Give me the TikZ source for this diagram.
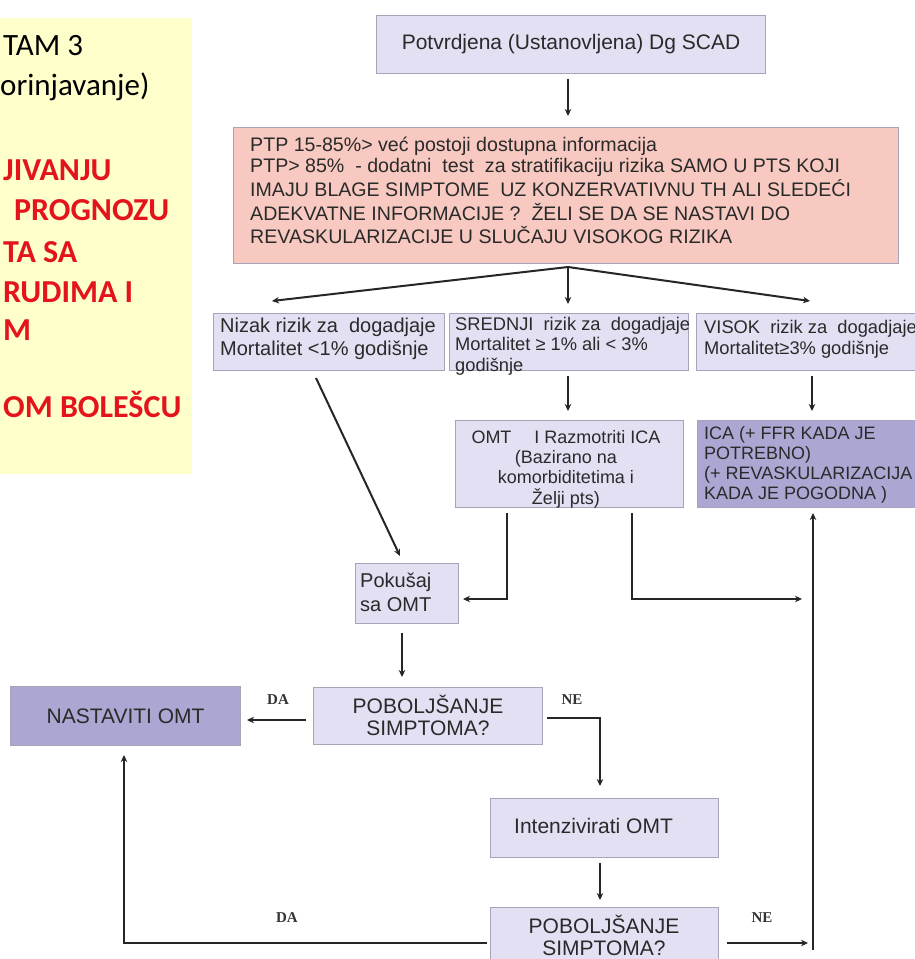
\documentclass[tikz,border=0pt]{standalone}
\usepackage{fontspec}
\usetikzlibrary{arrows.meta,calc}
\setmainfont{Liberation Sans}
\newfontfamily\panelfont{Carlito}
\newfontfamily\labelfont{Liberation Serif}
\definecolor{boxfill}{HTML}{E2E0F2}
\definecolor{boxline}{HTML}{A6A4B8}
\definecolor{darkfill}{HTML}{ABA7D2}
\definecolor{pinkfill}{HTML}{F7C9C0}
\definecolor{panelfill}{HTML}{FFFFCC}
\definecolor{panelred}{HTML}{E3141B}
\definecolor{inktext}{HTML}{2A2A2A}
% stacked lines; the first line's baseline is the baseline of the whole block
\newcommand{\lnstop}[2][l]{\begin{tabular}[t]{@{}#1@{}}#2\end{tabular}}
\tikzset{
  lbox/.style={draw=boxline, line width=1.2pt, fill=boxfill, anchor=north west, inner sep=0pt},
  dbox/.style={lbox, fill=darkfill},
  pbox/.style={lbox, fill=pinkfill},
  btext/.style={font=\fontsize{19}{21.7}\selectfont, text=inktext, inner sep=0pt},
  bigtext/.style={btext, font=\fontsize{21}{22}\selectfont},
  smalltext/.style={btext, font=\fontsize{18}{20}\selectfont},
  arr/.style={line width=2pt, draw=black!85, -{Stealth[length=7pt,width=6.5pt]}},
  yn/.style={font=\labelfont\bfseries\fontsize{15}{16}\selectfont, text=black!80, inner sep=0pt},
  ptext/.style={font=\panelfont\fontsize{31}{36}\selectfont, anchor=base west, inner sep=0pt},
  rtext/.style={ptext, font=\panelfont\bfseries\fontsize{32}{36}\selectfont, text=panelred},
}
\begin{document}
\begin{tikzpicture}[x=1pt,y=-1pt]
\clip (0,0) rectangle (915,959);
\fill[white] (0,0) rectangle (915,959);

% side panel
\fill[panelfill] (-10,18) rectangle (192,474);
\node[ptext] (p1) at (3,55) {TAM 3};
\node[ptext] (p2) at (0,95) {orinjavanje)};
\node[rtext] (r1) at (3,180) {JIVANJU};
\node[rtext] (r2) at (14,220) {PROGNOZU};
\node[rtext] (r3) at (3,262) {TA SA};
\node[rtext] (r4) at (3,302) {RUDIMA I};
\node[rtext] (r5) at (3,340) {M};
\node[rtext] (r6) at (3,417) {OM BOLEŠCU};

% boxes
\node[lbox, minimum width=389, minimum height=58] (top) at (376,15) {};
\node[bigtext, anchor=base] (topt) at (571,49) {Potvrdjena (Ustanovljena) Dg SCAD};

\node[pbox, minimum width=665, minimum height=136] (ptp) at (233,127) {};
\node[btext, anchor=base west, font=\fontsize{19.6}{21.8}\selectfont] (ptpt) at (250,151) {\lnstop{PTP 15-85\%> već postoji dostupna informacija\\
PTP> 85\%~ - dodatni~ test~ za stratifikaciju rizika SAMO U PTS KOJI\\
IMAJU BLAGE SIMPTOME~ UZ KONZERVATIVNU TH ALI SLEDEĆI\\
ADEKVATNE INFORMACIJE ?~ ŽELI SE DA SE NASTAVI DO\\
REVASKULARIZACIJE U SLUČAJU VISOKOG RIZIKA}};

\node[lbox, minimum width=231, minimum height=57] (low) at (213,313) {};
\node[btext, anchor=base west, font=\fontsize{20}{23}\selectfont] (lowt) at (220,332) {\lnstop{Nizak rizik za~ dogadjaje\\Mortalitet <1\% godišnje}};

\node[lbox, minimum width=239, minimum height=57] (mid) at (449,313) {};
\node[btext, anchor=base west, font=\fontsize{18.3}{20.5}\selectfont] (midt) at (455,330) {\lnstop{SREDNJI~ rizik za~ dogadjaje\\Mortalitet ≥ 1\% ali < 3\%\\godišnje}};

\node[lbox, minimum width=232, minimum height=57] (high) at (696,313) {};
\node[btext, anchor=base west, font=\fontsize{18.3}{21.5}\selectfont] (hight) at (704,333) {\lnstop{VISOK~ rizik za~ dogadjaje\\Mortalitet≥3\% godišnje}};

\node[lbox, minimum width=228, minimum height=87] (omt) at (455,420) {};
\node[smalltext, anchor=base] (omtt) at (566,443) {\lnstop[c]{OMT \quad I Razmotriti ICA\\(Bazirano na\\komorbiditetima i\\Želji pts)}};

\node[dbox, minimum width=232, minimum height=87] (ica) at (697,420) {};
\node[smalltext, anchor=base west] (icat) at (704,439) {\lnstop{ICA (+ FFR KADA JE\\POTREBNO)\\(+ REVASKULARIZACIJA\\KADA JE POGODNA )}};

\node[lbox, minimum width=103, minimum height=60] (try) at (355,563) {};
\node[btext, anchor=base west, font=\fontsize{20}{24.5}\selectfont] (tryt) at (360,587) {\lnstop{Pokušaj\\sa OMT}};

\node[lbox, minimum width=229, minimum height=57] (imp1) at (313,687) {};
\node[bigtext, anchor=base] (imp1t) at (428,713) {\lnstop[c]{POBOLJŠANJE\\SIMPTOMA?}};

\node[dbox, minimum width=230, minimum height=59] (cont) at (10,686) {};
\node[bigtext] (contt) at (cont.center) {NASTAVITI OMT};

\node[lbox, minimum width=228, minimum height=59] (intens) at (490,798) {};
\node[bigtext, anchor=base west] (intenst) at (514,833) {Intenzivirati OMT};

\node[lbox, minimum width=228, minimum height=70] (imp2) at (490,907) {};
\node[bigtext, anchor=base] (imp2t) at (604,933) {\lnstop[c]{POBOLJŠANJE\\SIMPTOMA?}};

% end points of the connectors that do not stop on a box edge
\coordinate (fbtop) at (813,513);
\coordinate (fbbot) at (813,950);
\coordinate (tryin) at (463,599);
\coordinate (fbin) at (802,599);
\coordinate (fbin2) at (808,943);
\coordinate (fork) at (568,267);

% connectors
\draw[arr] (568,79) -- (568,116);
\draw[arr] (fork) -- (272,301);
\draw[arr] (fork) -- (568,304);
\draw[arr] (fork) -- (810,301);
\draw[arr] (568,376) -- (568,411);
\draw[arr] (812,376) -- (812,411);
\draw[arr] (316,378) -- (400,556);
\draw[arr] (507,513) |- (tryin);
\draw[arr] (632,513) |- (fbin);
\draw[arr] (fbbot) -- (fbtop);
\draw[arr] (402,633) -- (402,677);
\draw[arr] (306,720) -- (247,720);
\draw[arr] (547,718) -| (600,786);
\draw[arr] (600,863) -- (600,900);
\draw[arr] (487,943) -| (124,755);
\draw[arr] (727,943) -- (fbin2);

% decision labels
\node[yn] (da1) at (278,700) {DA};
\node[yn] (ne1) at (572,700) {NE};
\node[yn] (da2) at (287,918) {DA};
\node[yn] (ne2) at (762,918) {NE};
\end{tikzpicture}
\end{document}
